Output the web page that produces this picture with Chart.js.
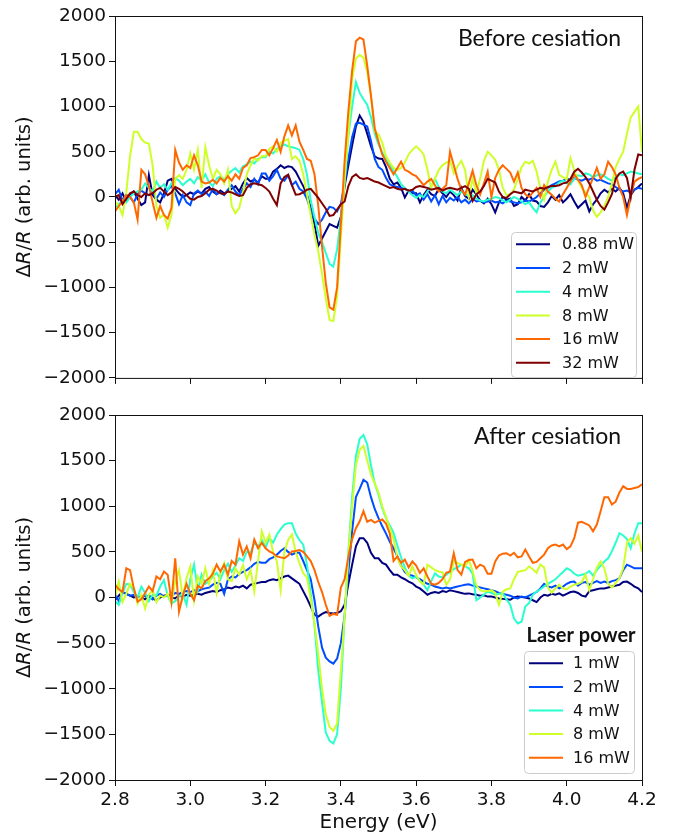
<!DOCTYPE html>
<html>
<head>
<meta charset="utf-8">
<script src="https://cdn.jsdelivr.net/npm/chart.js@4.4.0/dist/chart.umd.min.js"></script>
<style>
  body { margin: 0; background: #fff; width: 674px; height: 835px; overflow: hidden; position: relative; }
  .panel { position: absolute; left: 0; width: 674px; }
  #topWrap { top: 0; height: 392px; }
  #botWrap { top: 399px; height: 436px; }
</style>
</head>
<body>
<div class="panel" id="topWrap"><canvas id="topChart"></canvas></div>
<div class="panel" id="botWrap"><canvas id="botChart"></canvas></div>
<script>
// photon energy grid (eV)
const energies = [
  2.80,2.81,2.82,2.83,2.84,2.85,2.86,2.87,2.88,2.89,
  2.90,2.91,2.92,2.93,2.94,2.95,2.96,2.97,2.98,2.99,
  3.00,3.01,3.02,3.03,3.04,3.05,3.06,3.07,3.08,3.09,
  3.10,3.11,3.12,3.13,3.14,3.15,3.16,3.17,3.18,3.19,
  3.20,3.21,3.22,3.23,3.24,3.25,3.26,3.27,3.28,3.29,
  3.30,3.31,3.32,3.33,3.34,3.35,3.36,3.37,3.38,3.39,
  3.40,3.41,3.42,3.43,3.44,3.45,3.46,3.47,3.48,3.49,
  3.50,3.51,3.52,3.53,3.54,3.55,3.56,3.57,3.58,3.59,
  3.60,3.61,3.62,3.63,3.64,3.65,3.66,3.67,3.68,3.69,
  3.70,3.71,3.72,3.73,3.74,3.75,3.76,3.77,3.78,3.79,
  3.80,3.81,3.82,3.83,3.84,3.85,3.86,3.87,3.88,3.89,
  3.90,3.91,3.92,3.93,3.94,3.95,3.96,3.97,3.98,3.99,
  4.00,4.01,4.02,4.03,4.04,4.05,4.06,4.07,4.08,4.09,
  4.10,4.11,4.12,4.13,4.14,4.15,4.16,4.17,4.18,4.19,
  4.20
];

const xTicks = [2.8, 3.0, 3.2, 3.4, 3.6, 3.8, 4.0, 4.2];
const yTicks = [-2000, -1500, -1000, -500, 0, 500, 1000, 1500, 2000];

// before cesiation
const topLabels = ['0.88 mW', '2 mW', '4 mW', '8 mW', '16 mW', '32 mW'];
const topColors = ['#00007f', '#004cff', '#29ffce', '#ceff29', '#ff6800', '#7f0000'];

const before088 = [
  20,-30,40,-50,10,60,-20,-90,-60,240,
  20,-30,-60,40,180,200,90,40,0,20,
  50,30,60,40,90,110,60,30,70,40,
  60,90,120,60,150,210,170,190,160,230,
  200,200,280,310,350,320,340,330,280,200,
  120,25,-120,-300,-540,-460,-380,-300,-320,-340,
  -220,120,350,570,780,900,830,700,560,450,
  425,420,330,200,140,160,100,-5,70,40,
  40,-60,20,80,30,10,90,40,0,60,
  20,-40,100,10,-20,80,30,-40,-70,-20,
  -80,-170,-60,0,-30,-20,-100,-80,0,-40,
  30,-40,-50,-100,-110,-60,10,-30,20,-60,
  -20,30,-50,-120,-80,-40,-160,-80,-30,40,
  80,50,90,60,100,40,-120,20,80,110,
  150
];
const before2 = [
  30,80,-40,20,0,-60,30,70,40,20,
  60,-20,50,0,80,120,40,-80,20,-60,
  -90,40,70,30,60,10,90,30,50,20,
  80,130,60,20,90,150,110,200,140,260,
  260,180,230,300,200,180,240,130,170,90,
  60,-20,-150,-240,-300,-250,-170,-110,-120,-160,
  -80,150,420,660,810,820,800,780,620,420,
  330,300,210,140,120,110,100,90,60,70,
  20,40,-30,30,-50,20,-80,10,-60,-10,
  -40,0,-60,-30,-70,-20,-50,-40,-60,-50,
  -40,-60,-50,-70,-40,-50,-60,-70,-60,-40,
  -50,-30,0,40,80,100,130,150,170,180,
  200,190,210,190,180,200,190,210,180,190,
  170,150,140,110,80,60,70,50,80,100,
  90
];
const before4 = [
  -120,-80,-40,-60,0,40,60,80,150,100,
  60,170,100,140,80,150,210,180,130,170,
  200,150,220,180,250,160,120,200,230,190,
  250,290,320,270,340,360,390,370,420,440,
  440,500,480,530,560,580,560,550,540,520,
  420,250,-40,-220,-400,-500,-620,-740,-770,-580,
  -230,170,680,1000,1270,1150,1080,1020,880,700,
  580,490,420,350,290,220,140,100,60,20,
  -10,20,0,60,120,200,110,60,40,80,
  50,20,60,30,10,20,-20,-40,-50,-30,
  -20,0,-10,-40,-60,-30,0,-20,-50,-80,
  -60,-120,-170,-60,0,60,100,120,160,180,
  150,140,200,240,230,260,250,220,240,250,
  230,200,180,220,250,240,260,280,270,260,
  250
];
const before8 = [
  -50,-100,-200,50,450,720,720,640,600,590,
  350,-100,-230,-195,-340,-200,200,240,200,300,
  480,300,520,100,550,350,200,300,250,150,
  300,-100,-180,-120,50,250,350,430,400,450,
  450,530,560,500,600,620,640,420,450,400,
  250,25,-200,-420,-600,-850,-1120,-1360,-1370,-1100,
  -450,200,700,1300,1530,1570,1540,1380,1120,720,
  690,600,450,380,320,300,320,380,470,520,
  560,520,470,300,100,200,300,350,380,400,
  260,340,400,300,0,200,40,200,400,500,
  460,410,300,100,20,30,85,200,330,390,
  370,400,280,100,-30,170,300,390,245,220,
  195,430,300,180,100,50,0,-150,-220,-170,
  -100,0,150,330,420,500,700,880,940,1000,
  500
];
const before16 = [
  -160,-100,-50,20,0,-60,-250,300,250,120,
  -60,-230,-100,-200,-240,-120,520,380,300,350,
  320,460,350,170,150,160,190,150,210,170,
  230,180,250,200,320,350,430,440,460,520,
  520,460,540,630,500,670,790,680,790,610,
  520,420,400,250,-100,-550,-950,-1220,-1245,-1000,
  -300,400,950,1400,1720,1760,1740,1450,1120,760,
  610,470,390,320,250,320,390,300,280,250,
  230,180,130,170,200,130,60,90,130,500,
  350,200,80,25,150,290,130,25,150,280,
  0,210,300,350,310,270,170,270,100,30,
  0,50,100,0,130,60,25,-20,-50,30,
  100,170,250,190,130,0,110,210,320,200,
  250,390,330,250,100,0,-200,0,170,200,
  220
];
const before32 = [
  0,20,-80,-20,40,60,20,0,40,20,
  40,80,100,60,20,50,110,90,60,20,
  -20,-30,0,10,40,80,90,70,40,30,
  60,50,30,10,20,100,140,150,140,130,
  100,60,-20,-90,150,220,245,130,25,30,
  50,80,90,40,-10,-70,-130,-210,-200,-140,
  -80,-50,120,220,250,210,200,210,190,170,
  160,140,120,100,110,90,80,90,70,80,
  110,120,110,100,80,90,100,70,90,100,
  90,80,100,120,90,-45,30,60,120,200,
  180,160,60,0,-10,30,60,50,40,80,
  70,60,80,100,90,110,120,120,130,150,
  160,200,280,310,270,220,150,60,-30,-100,
  -140,-60,30,200,260,280,210,0,300,470,
  460
];

// after cesiation
const bottomLabels = ['1 mW', '2 mW', '4 mW', '8 mW', '16 mW'];
const bottomColors = ['#00007f', '#004cff', '#29ffce', '#ceff29', '#ff6800'];

const after1 = [
  -30,20,60,40,20,0,10,0,-20,20,
  -10,-30,0,20,30,0,-10,20,10,30,
  20,30,40,30,50,60,70,60,80,90,
  110,100,120,110,130,100,140,150,160,170,
  170,190,200,190,210,230,240,210,180,150,
  70,-10,-100,-190,-210,-180,-160,-170,-175,-170,
  -150,-80,150,360,560,650,650,600,490,430,
  430,380,360,300,250,250,220,200,175,155,
  120,100,65,30,50,60,50,70,60,80,
  70,60,50,40,45,35,30,20,25,10,
  10,0,-10,-15,-20,-25,0,10,5,0,
  -10,-30,-50,0,30,20,40,30,45,20,
  40,60,65,50,20,10,70,80,90,100,
  100,110,120,130,140,170,175,150,120,100,
  60
];
const after2 = [
  40,-40,60,40,20,30,10,0,20,10,
  -20,20,40,10,30,20,50,40,60,70,
  60,80,70,90,100,110,140,160,150,40,
  200,230,220,260,280,300,330,370,390,380,
  380,420,440,470,510,540,500,470,490,490,
  400,300,200,-30,-320,-550,-660,-700,-725,-670,
  -500,-200,280,730,1100,1190,1290,1260,1100,970,
  870,780,700,610,540,450,350,280,250,240,
  220,200,175,150,140,120,110,100,110,100,
  110,120,130,140,145,130,120,110,100,90,
  80,70,50,40,30,20,0,-10,10,0,
  20,40,60,100,150,120,110,130,100,120,
  150,170,175,130,160,170,140,160,180,160,
  175,160,180,190,210,300,360,340,320,320,
  320
];
const after4 = [
  -40,-80,50,150,140,60,0,120,50,-40,
  30,20,120,190,20,-65,-40,10,40,-80,
  200,360,80,250,150,180,230,270,200,300,
  370,280,350,430,400,500,490,600,560,630,
  550,650,600,690,750,800,815,815,700,630,
  580,360,40,-300,-800,-1150,-1480,-1570,-1600,-1500,
  -1000,-200,500,1100,1550,1740,1780,1680,1450,1250,
  1130,980,870,790,710,570,440,330,240,210,
  230,180,140,80,180,265,230,220,250,280,
  310,330,360,340,320,260,-30,0,30,65,
  50,30,40,45,-20,-80,-230,-285,-265,-100,
  -60,30,65,90,120,150,175,200,240,280,
  320,300,260,240,250,260,290,240,300,350,
  395,430,505,600,705,680,640,540,700,815,
  815
];
const after8 = [
  0,175,-50,40,150,100,-65,30,-120,30,
  80,-50,20,0,40,-60,175,300,0,210,
  340,-30,230,150,320,150,300,50,265,375,
  200,180,320,250,355,200,300,65,400,725,
  600,690,500,395,80,500,630,690,500,375,
  265,220,-20,-280,-620,-1000,-1280,-1420,-1460,-1380,
  -800,-200,480,1000,1450,1620,1660,1500,1350,1250,
  1150,1000,880,760,635,440,340,300,240,340,
  250,175,145,360,330,300,285,275,140,200,
  400,380,360,340,410,290,130,80,65,70,
  80,50,-80,65,90,100,200,280,290,300,
  340,310,270,360,330,110,50,100,140,100,
  90,120,140,150,170,250,80,200,330,395,
  320,150,110,160,210,320,600,650,590,680,
  505
];
const after16 = [
  140,90,60,320,300,100,-45,-20,50,120,
  70,230,200,285,250,-45,430,-155,20,150,
  40,-30,130,100,180,210,260,360,285,360,
  250,400,360,615,470,560,430,635,540,600,
  540,505,485,450,440,430,460,505,510,520,
  500,450,400,300,170,60,-80,-200,-180,-190,
  110,200,450,640,760,835,945,830,850,820,
  840,855,810,700,400,450,380,415,330,395,
  350,270,320,230,150,140,160,200,270,285,
  485,300,250,390,410,415,320,360,340,260,
  260,395,460,480,485,460,490,440,450,525,
  450,380,390,430,470,540,570,580,560,580,
  530,560,650,820,830,810,790,725,800,945,
  1100,1100,1020,1050,1150,1220,1190,1190,1200,1210,
  1240
];

const ink = '#111111';
const tickFont = { family: 'DejaVu Sans', size: 18.5 };

// frame, y title with italic R, panel caption and legend box
const decor = {
  id: 'decor',
  afterDraw(chart, args, o) {
    const { ctx, chartArea: a } = chart;
    ctx.save();
    ctx.strokeStyle = ink;
    ctx.lineWidth = 1;
    ctx.strokeRect(a.left + 0.5, a.top + 0.5, a.right - a.left, a.bottom - a.top);

    // y axis title
    const parts = [['\u0394', ''], ['R', 'italic '], ['/', ''], ['R', 'italic '], [' (arb. units)', '']];
    ctx.translate(25, (a.top + a.bottom) / 2);
    ctx.rotate(-Math.PI / 2);
    ctx.fillStyle = ink;
    ctx.textBaseline = 'middle';
    let total = 0;
    parts.forEach(p => { ctx.font = p[1] + '19.5px "DejaVu Sans"'; total += ctx.measureText(p[0]).width; });
    let px = -total / 2;
    parts.forEach(p => {
      ctx.font = p[1] + '19.5px "DejaVu Sans"';
      ctx.textAlign = 'left';
      ctx.fillText(p[0], px, 0);
      px += ctx.measureText(p[0]).width;
    });
    ctx.restore();

    ctx.save();
    ctx.fillStyle = ink;
    ctx.font = '23px Lato';
    ctx.textAlign = 'right';
    ctx.textBaseline = 'middle';
    ctx.fillText(o.caption, 621, o.captionY);

    const L = o.legend;
    if (L.heading) {
      ctx.font = 'bold 20px Lato';
      ctx.textAlign = 'center';
      ctx.fillText(L.heading, L.headX, L.headY);
    }
    ctx.fillStyle = 'rgba(255,255,255,0.8)';
    ctx.strokeStyle = '#cccccc';
    ctx.beginPath();
    if (ctx.roundRect) ctx.roundRect(L.x + 0.5, L.y + 0.5, L.w, L.h, 4);
    else ctx.rect(L.x + 0.5, L.y + 0.5, L.w, L.h);
    ctx.fill();
    ctx.stroke();
    ctx.font = '16px "DejaVu Sans"';
    ctx.textAlign = 'left';
    chart.data.datasets.forEach((ds, i) => {
      const ry = L.row0 + i * L.rowH;
      ctx.strokeStyle = ds.borderColor;
      ctx.lineWidth = 2;
      ctx.beginPath();
      ctx.moveTo(L.x0, ry);
      ctx.lineTo(L.x1, ry);
      ctx.stroke();
      ctx.fillStyle = ink;
      ctx.fillText(ds.label, L.tx, ry + 1);
    });
    ctx.restore();
  }
};

function makePanel(id, series, labels, colors, cfg) {
  const datasets = series.map((vals, i) => ({
    label: labels[i],
    data: energies.map((e, j) => ({ x: e, y: vals[j] })),
    borderColor: colors[i],
    backgroundColor: colors[i],
    borderWidth: 2,
    pointRadius: 0,
    tension: 0,
    fill: false,
    order: series.length - i
  }));
  return new Chart(document.getElementById(id), {
    type: 'line',
    data: { datasets },
    plugins: [decor],
    options: {
      responsive: true,
      maintainAspectRatio: false,
      animation: false,
      devicePixelRatio: 1,
      layout: { padding: { top: 16, right: 32, bottom: 0, left: 0 } },
      plugins: {
        legend: { display: false },
        tooltip: { enabled: false },
        decor: cfg.decor
      },
      scales: {
        x: {
          type: 'linear',
          min: 2.8,
          max: 4.2,
          afterBuildTicks: s => { s.ticks = xTicks.map(v => ({ value: v })); },
          afterFit: s => { s.height = cfg.xHeight; },
          grid: { drawOnChartArea: false, drawTicks: true, tickLength: 6, color: ink },
          border: { display: false },
          ticks: {
            display: cfg.showX,
            color: ink,
            font: tickFont,
            padding: 3,
            maxRotation: 0,
            callback: v => v.toFixed(1)
          },
          title: {
            display: cfg.showX,
            text: 'Energy (eV)',
            color: ink,
            font: { family: 'DejaVu Sans', size: 20 },
            padding: 0
          }
        },
        y: {
          min: -2000,
          max: 2000,
          afterBuildTicks: s => { s.ticks = yTicks.map(v => ({ value: v })); },
          afterFit: s => { s.width = 115; },
          grid: { drawOnChartArea: false, drawTicks: true, tickLength: 6, color: ink },
          border: { display: false },
          ticks: {
            color: ink,
            font: tickFont,
            padding: 3,
            callback: v => (v < 0 ? '\u2212' + Math.abs(v) : String(v))
          }
        }
      }
    }
  });
}

makePanel('topChart',
  [before088, before2, before4, before8, before16, before32],
  topLabels, topColors,
  {
    showX: false,
    xHeight: 10,
    decor: {
      caption: 'Before cesiation',
      captionY: 39,
      legend: { x: 511, y: 232, w: 125, h: 145, row0: 244.3, rowH: 23.7, x0: 516, x1: 550, tx: 562 }
    }
  });

makePanel('botChart',
  [after1, after2, after4, after8, after16],
  bottomLabels, bottomColors,
  {
    showX: true,
    xHeight: 55,
    decor: {
      caption: 'After cesiation',
      captionY: 38,
      legend: { x: 524, y: 252, w: 110, h: 122, row0: 264.3, rowH: 23.6, x0: 529, x1: 563, tx: 573,
                heading: 'Laser power', headX: 581, headY: 237 }
    }
  });
</script>
</body>
</html>
